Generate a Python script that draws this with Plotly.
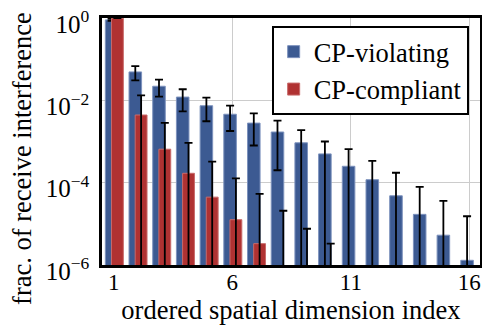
import plotly.graph_objects as go

# ordered spatial dimension index
idx = list(range(1, 17))

# fraction of receive interference, mean and error
viol = [0.9, 0.049, 0.022, 0.012, 0.0074, 0.0046, 0.0028, 0.0017,
        0.00093, 0.0005, 0.00025, 0.000118, 4.8e-5, 1.7e-5, 5.3e-6, 1.3e-6]
viol_err = [0.05, 0.0186, 0.0097, 0.0066, 0.0043, 0.0028, 0.002, 0.0015,
            0.00095, 0.0005, 0.0004, 0.00022, 0.000126, 6.2e-5, 3.1e-5, 1.4e-5]

comp = [0.99, 0.0044, 0.00065, 0.000169, 4.45e-5, 1.26e-5, 3.3e-6, 8e-7,
        3e-7, 1e-7, None, None, None, None, None, None]
comp_err = [0.0, 0.0088, 0.00217, 0.00076, 0.00028, 0.000115, 5e-5, 2e-5,
            7.3e-6, 3.2e-6, 0, 0, 0, 0, 0, 0]

ytick_vals = [1e-6, 1e-4, 1e-2, 1]
ytick_text = ['10<sup>−6</sup>', '10<sup>−4</sup>', '10<sup>−2</sup>', '10<sup>0</sup>']
xtick_vals = [1, 6, 11, 16]

BLUE = '#3c5a92'
RED = '#b03232'
FONT = 'Liberation Serif'

fig = go.Figure()

fig.add_trace(go.Bar(
    x=idx, y=viol, name='CP-violating',
    width=0.53, offset=-0.36,
    marker=dict(color=BLUE, line=dict(color='#7d92bd', width=1)),
    error_y=dict(type='data', array=viol_err, visible=True,
                 color='black', thickness=1.8, width=4),
))
fig.add_trace(go.Bar(
    x=idx, y=comp, name='CP-compliant',
    width=0.5, offset=-0.1,
    marker=dict(color=RED, line=dict(color='#c86a6a', width=1)),
    error_y=dict(type='data', array=comp_err, visible=True,
                 color='black', thickness=1.8, width=4),
))

# page body has an 8px margin, so the figure is shrunk by that much
fig.update_layout(
    width=482, height=326,
    barmode='overlay',
    plot_bgcolor='white', paper_bgcolor='white',
    font=dict(family=FONT, size=22, color='black'),
    margin=dict(l=94, r=10, t=10, b=69),
    legend=dict(
        x=0.97, y=0.968, xanchor='right', yanchor='top',
        bgcolor='white', bordercolor='black', borderwidth=2,
        font=dict(family=FONT, size=26.5),
        itemwidth=30, tracegroupgap=0,
    ),
)

# y title as a rotated annotation (it sits a bit below the plot centre)
fig.add_annotation(
    text='frac. of receive interference',
    xref='paper', yref='paper', x=-0.212, y=0.433,
    xanchor='center', yanchor='middle', textangle=-90,
    showarrow=False, font=dict(size=26.5),
)

fig.update_xaxes(
    range=[0.5, 16.45], automargin=False,
    tickvals=xtick_vals,
    showgrid=True, gridcolor='#cccccc', gridwidth=1,
    showline=True, linecolor='black', linewidth=2.5, mirror=True,
    ticks='', zeroline=False,
    tickfont=dict(size=23), ticklabelstandoff=-5,
    title=dict(text='ordered spatial dimension index', font=dict(size=26.5), standoff=0),
)
fig.update_yaxes(
    type='log', range=[-6, 0], automargin=False,
    tickvals=ytick_vals, ticktext=ytick_text,
    showgrid=True, gridcolor='#cccccc', gridwidth=1,
    showline=True, linecolor='black', linewidth=2.5, mirror=True,
    ticks='', zeroline=False,
    tickfont=dict(size=25), ticklabeloverflow='allow',
    ticklabelstandoff=5, ticklabelshift=6,
)

fig.write_html("out.html")
